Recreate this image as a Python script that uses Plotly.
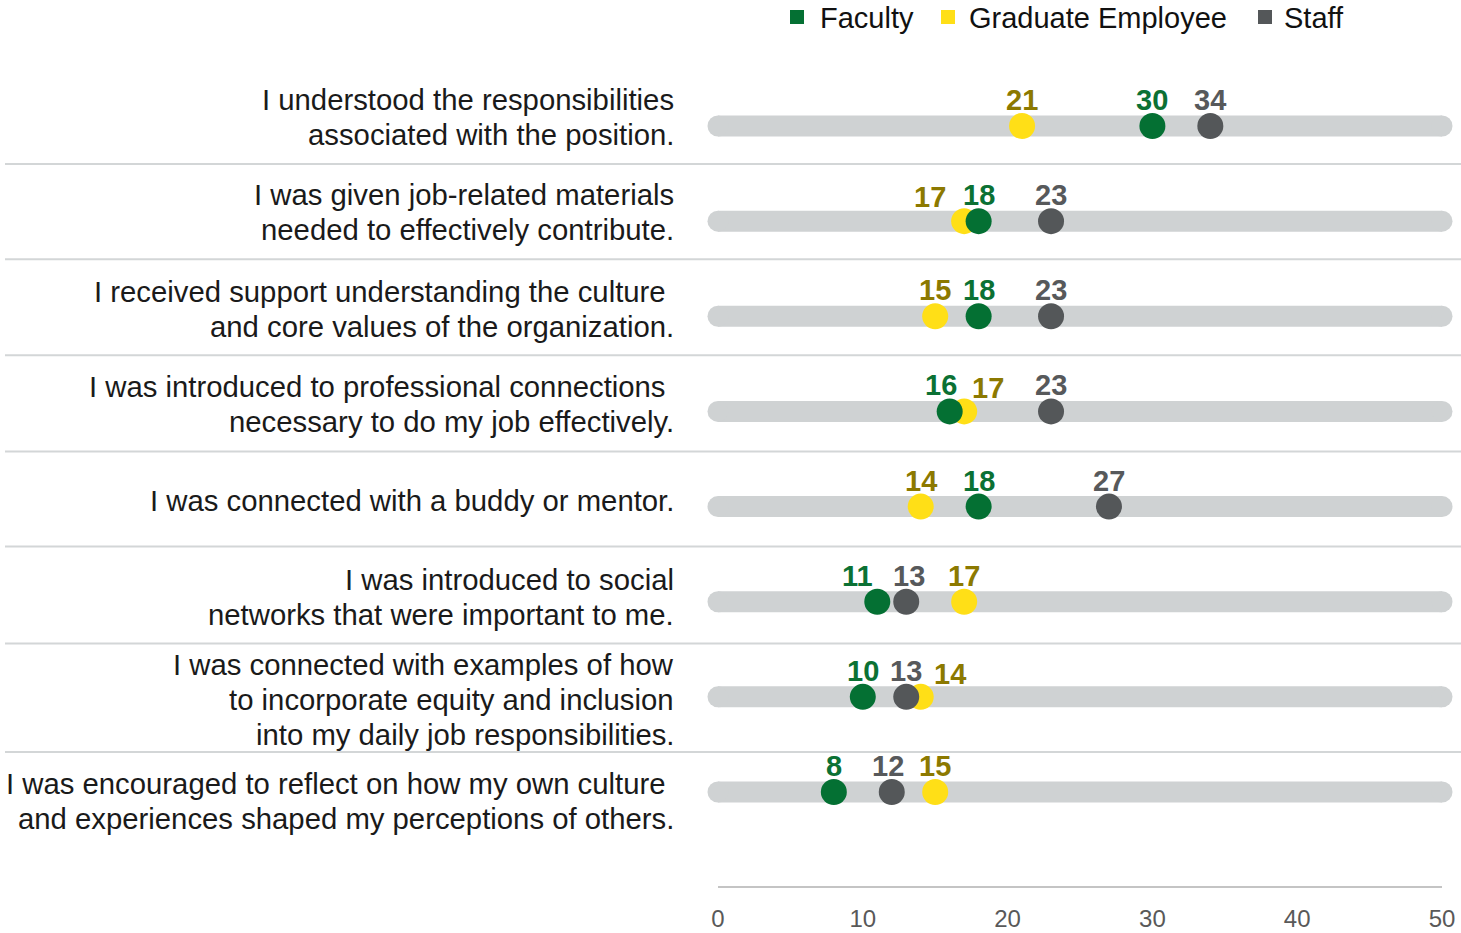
import plotly.graph_objects as go

# ---------------- data ----------------
categories = [
    ["I understood the responsibilities", "associated with the position."],
    ["I was given job-related materials", "needed to effectively contribute."],
    ["I received support understanding the culture\u00a0", "and core values of the organization."],
    ["I was introduced to professional connections\u00a0", "necessary to do my job effectively."],
    ["I was connected with a buddy or mentor."],
    ["I was introduced to social", "networks that were important to me."],
    ["I was connected with examples of how", "to incorporate equity and inclusion",
     "into my daily job responsibilities."],
    ["I was encouraged to reflect on how my own culture\u00a0",
     "and experiences shaped my perceptions of others."],
]
series_names = ["Faculty", "Graduate Employee", "Staff"]
faculty = [30, 18, 18, 16, 18, 11, 10, 8]
graduate = [21, 17, 15, 17, 14, 17, 14, 15]
staff = [34, 23, 23, 23, 27, 13, 13, 12]
x_ticks = [0, 10, 20, 30, 40, 50]
x_max = 50

# ---------------- styles / layout tuning ----------------
W, H = 1461, 933
ML, MT = 718, 79
MR = W - 1442
MB = H - 886
PW, PH = W - ML - MR, H - MT - MB

dot_colors = {"Faculty": "#047033", "Graduate Employee": "#FFDF17", "Staff": "#545759"}
text_colors = {"Faculty": "#0B7134", "Graduate Employee": "#8C7900", "Staff": "#57595B"}
track_color = "#CFD2D3"
sep_color = "#D3D6D7"
FONT = "Liberation Sans, Arial, sans-serif"

# nudges (px) for value labels that would collide: (row, series) -> (dx, dy down)
label_nudge = {
    (1, "Graduate Employee"): (-34, 2),
    (3, "Faculty"): (-9, 0),
    (3, "Graduate Employee"): (24, 3),
    (5, "Faculty"): (-20, 0),
    (5, "Staff"): (3, 0),
    (6, "Graduate Employee"): (29, 3),
    (7, "Staff"): (-4, 0),
}
# vertical offset (px, down) of each row label block from the track centre
label_dy = [-9.5, -9, -7, -7, -6, -4.5, 3, 8.5]
line_gap = 35
# separator lines positions (in row units)
separators = [0.40, 1.40, 2.41, 3.42, 4.42, 5.44, 6.58]

n = len(categories)
rows = list(range(n))
values = {"Faculty": faculty, "Graduate Employee": graduate, "Staff": staff}

def px_x(px):
    return (px - ML) / PW

def px_y(py):
    return (MT + PH - py) / PH

fig = go.Figure()

# tracks
tx, ty = [], []
for r in rows:
    tx += [0, x_max, None]
    ty += [r, r, None]
fig.add_trace(go.Scatter(
    x=tx, y=ty, mode="lines+markers",
    line=dict(color=track_color, width=21),
    marker=dict(color=track_color, size=21, line=dict(width=0)),
    hoverinfo="skip", showlegend=False, cliponaxis=False,
))

# dots (drawing order: graduate, faculty, staff)
for name in ["Graduate Employee", "Faculty", "Staff"]:
    fig.add_trace(go.Scatter(
        x=values[name], y=rows, mode="markers", name=name,
        marker=dict(color=dot_colors[name], size=26, line=dict(width=0)),
        showlegend=False, cliponaxis=False,
    ))

annotations = []
# value labels
for name in series_names:
    for r, v in zip(rows, values[name]):
        dx, dy = label_nudge.get((r, name), (0, 0))
        annotations.append(dict(
            x=v, y=r, xref="x", yref="y", text=f"<b>{v}</b>", showarrow=False,
            xanchor="center", yanchor="bottom", xshift=dx, yshift=8 - dy,
            font=dict(family=FONT, size=29, color=text_colors[name]),
        ))

# row labels (each line separately for precise line spacing)
for r, lines in enumerate(categories):
    m = len(lines)
    for k, line in enumerate(lines):
        off = label_dy[r] + (k - (m - 1) / 2) * line_gap
        annotations.append(dict(
            x=px_x(676), y=r, xref="paper", yref="y", text=line, showarrow=False,
            xanchor="right", yanchor="middle", yshift=-off,
            font=dict(family=FONT, size=29.3, color="#1A1A1A"),
        ))

# custom legend
shapes = []
legend_items = [("Faculty", 797, 818), ("Graduate Employee", 948, 967), ("Staff", 1265, 1282)]
for name, sq_x, tx_x in legend_items:
    shapes.append(dict(
        type="rect", xref="paper", yref="paper",
        x0=px_x(sq_x - 7), x1=px_x(sq_x + 7), y0=px_y(17 + 7), y1=px_y(17 - 7),
        fillcolor=dot_colors[name], line=dict(width=0), layer="above",
    ))
    annotations.append(dict(
        x=px_x(tx_x), y=px_y(0), xref="paper", yref="paper", text=name,
        showarrow=False, xanchor="left", yanchor="top",
        font=dict(family=FONT, size=29, color="#111111"),
    ))

# separators
for s in separators:
    shapes.append(dict(
        type="line", xref="paper", yref="y",
        x0=px_x(5), x1=px_x(1461), y0=s, y1=s,
        line=dict(color=sep_color, width=2), layer="below",
    ))

y_bottom = (n - 1) + (886 - 792) / 95.14
y_top = -(126 - 79) / 95.14

fig.update_layout(
    width=W, height=H, autosize=False,
    margin=dict(l=ML, r=MR, t=MT, b=MB, pad=0, autoexpand=False),
    paper_bgcolor="white", plot_bgcolor="white",
    showlegend=False,
    annotations=annotations, shapes=shapes,
    xaxis=dict(
        range=[0, x_max], tickvals=x_ticks, ticktext=[str(t) for t in x_ticks],
        showgrid=False, zeroline=False, showline=True, linecolor="#C4C4C4", linewidth=2,
        ticks="", ticklabelstandoff=10, automargin=False, ticklabeloverflow="allow",
        tickfont=dict(family=FONT, size=24, color="#595959"),
        fixedrange=True,
    ),
    yaxis=dict(
        range=[y_bottom, y_top], showgrid=False, zeroline=False, showline=False,
        showticklabels=False, ticks="", fixedrange=True, automargin=False,
    ),
)

fig.write_html(
    "out.html",
    config={"displayModeBar": False},
    post_script="document.body.style.margin='0';document.body.style.overflow='hidden';",
)
